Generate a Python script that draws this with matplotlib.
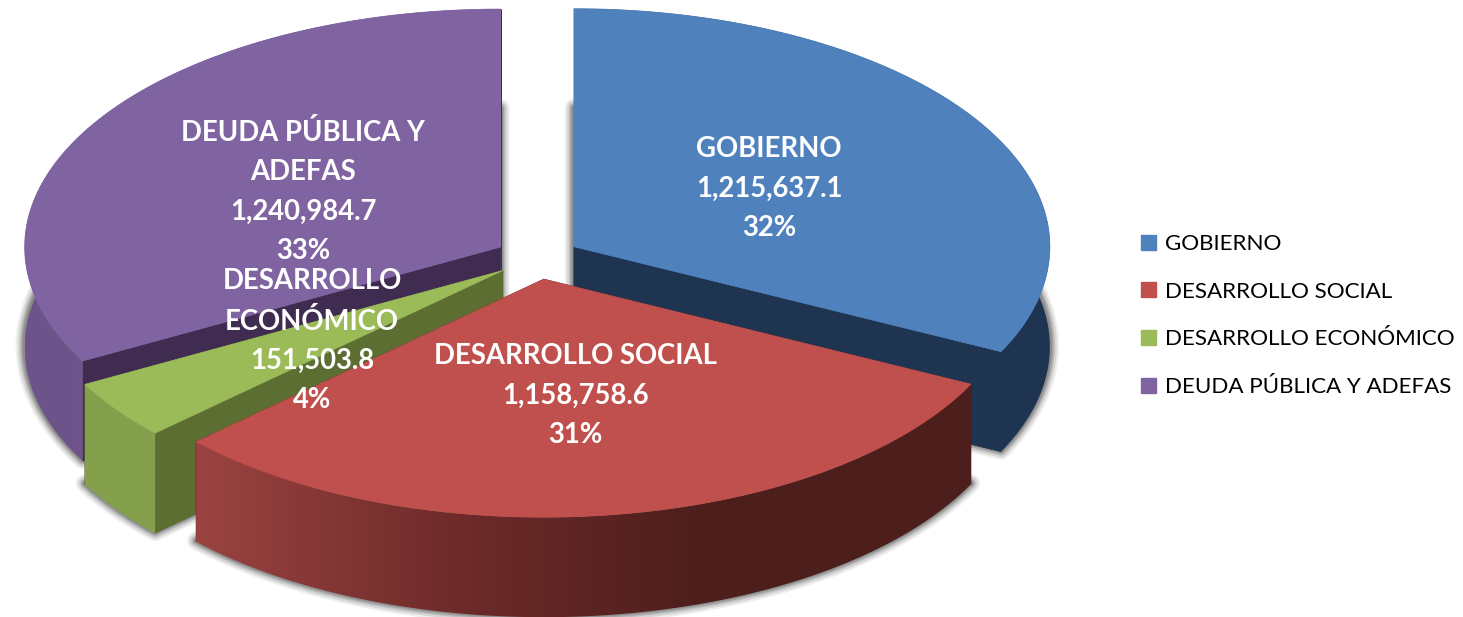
import numpy as np
import matplotlib
matplotlib.use("Agg")
import matplotlib.pyplot as plt
from matplotlib.patches import Polygon, Patch
from matplotlib.colors import LinearSegmentedColormap

# --- Data ---------------------------------------------------
names = ["GOBIERNO", "DESARROLLO SOCIAL", "DESARROLLO ECONÓMICO", "DEUDA PÚBLICA Y ADEFAS"]
label_names = ["GOBIERNO", "DESARROLLO SOCIAL", "DESARROLLO\nECONÓMICO", "DEUDA PÚBLICA Y\nADEFAS"]
values = [1215637.1, 1158758.6, 151503.8, 1240984.7]

# --- Styles -------------------------------------------------
top_colors = ["#4f81bd", "#c0504d", "#9bbb59", "#8064a2"]
face_colors = ["#1e3450", "#4c1e1c", "#5c6e31", "#3f2c50"]
rim_colors = [["#1e3450", "#1e3450"],
              ["#9a4340", "#6e2b2a", "#4c1e1c", "#4c1e1c"],
              ["#84a04c", "#84a04c"],
              ["#6c5389", "#775c98"]]
label_pos = [(769, 188.5), (575, 395.5), (312, 340.5), (303, 191.5)]
draw_order = [0, 3, 2, 1]

# pie geometry in pixels
cx, cy = 537.5, 258
rx, ry = 476, 238
depth = 100
explode = 0.09

total = sum(values)
fracs = np.array(values) / total
ends = np.cumsum(fracs) * 2 * np.pi
starts = ends - fracs * 2 * np.pi

fig = plt.figure(figsize=(14.63, 6.17), dpi=100)
ax = fig.add_axes([0, 0, 1, 1])


def wedge_points(i):
    mid = (starts[i] + ends[i]) / 2
    ox = cx + explode * rx * np.sin(mid)
    oy = cy - explode * ry * np.cos(mid)
    t = np.linspace(starts[i], ends[i], 200)
    arc = np.column_stack([ox + rx * np.sin(t), oy - ry * np.cos(t)])
    return np.array([ox, oy]), arc


# Soft shadow is the underside of each slice, drawn before everything
for i in range(4):
    apex, arc = wedge_points(i)
    low = np.vstack([apex, arc]) + [0, depth - 1]
    for lw, grey in [(13, "#eeeeee"), (10, "#d6d6d6"), (7, "#bcbcbc"), (5, "#a2a2a2"), (3, "#8c8c8c")]:
        ax.add_patch(Polygon(low, closed=True, facecolor=grey, edgecolor=grey,
                             lw=lw, joinstyle="round", zorder=1))

z = 2
for i in draw_order:
    apex, arc = wedge_points(i)
    down = np.array([0, depth])
    # flat cut faces
    for end in [arc[0], arc[-1]]:
        face = [apex, end, end + down, apex + down]
        ax.add_patch(Polygon(face, closed=True, facecolor=face_colors[i],
                             edgecolor=face_colors[i], lw=0.5, zorder=z))
    # outer rim with a left to right shading
    rim = Polygon(np.vstack([arc, (arc + down)[::-1]]), closed=True,
                  facecolor="none", edgecolor="none", zorder=z + 1)
    ax.add_patch(rim)
    cmap = LinearSegmentedColormap.from_list("rim%d" % i, rim_colors[i])
    x0, x1 = arc[:, 0].min(), arc[:, 0].max()
    y0, y1 = arc[:, 1].min(), arc[:, 1].max() + depth
    im = ax.imshow(np.linspace(0, 1, 256).reshape(1, -1), cmap=cmap, aspect="auto",
                   extent=(x0, x1, y1, y0), zorder=z + 1, interpolation="bilinear")
    im.set_clip_path(rim)
    # top of the slice
    ax.add_patch(Polygon(np.vstack([apex, arc]), closed=True, facecolor=top_colors[i],
                         edgecolor=top_colors[i], lw=0.5, zorder=z + 2))
    z += 3

# Data labels
for i in range(4):
    txt = f"{label_names[i]}\n{values[i]:,.1f}\n{fracs[i]:.0%}"
    ax.text(label_pos[i][0], label_pos[i][1], txt, color="white", fontsize=19.8,
            family="Lato", fontweight="bold", ha="center", va="center",
            linespacing=1.62, zorder=50)

ax.set_xlim(0, 1463)
ax.set_ylim(617, 0)
ax.axis("off")

handles = [Patch(facecolor=c, edgecolor=c, label=n) for c, n in zip(top_colors, names)]
ax.legend(handles=handles, loc="center left", bbox_to_anchor=(1141 / 1463, 1 - 315.5 / 617),
          frameon=False, prop={"family": "Lato", "size": 16.1}, handlelength=0.67,
          handleheight=0.67, handletextpad=0.4, labelspacing=1.236, borderpad=0,
          borderaxespad=0)

fig.savefig("out.png", dpi=100)
